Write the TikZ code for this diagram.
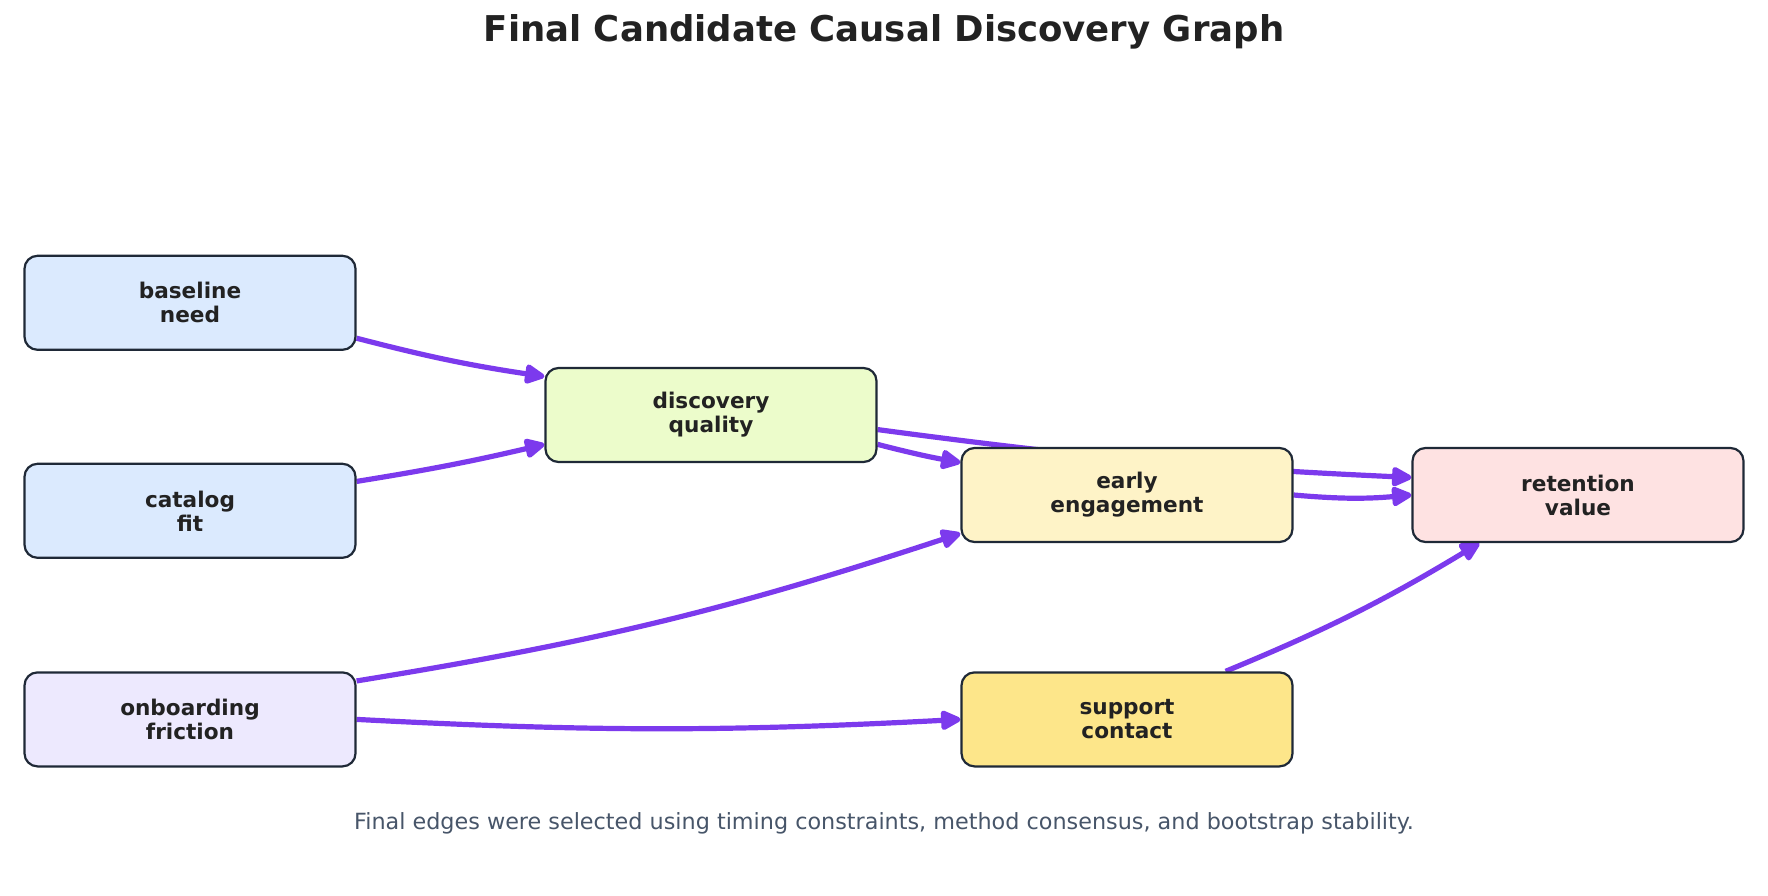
\documentclass[tikz,border=0pt]{standalone}
\usepackage{fontspec}
\setmainfont{DejaVu Sans}
\usetikzlibrary{arrows.meta,backgrounds}
\definecolor{edgec}{HTML}{7C3AED}
\definecolor{borderc}{HTML}{1F2937}
\definecolor{textc}{HTML}{222222}
\definecolor{capc}{HTML}{475569}
\definecolor{cblue}{HTML}{DBEAFE}
\definecolor{clime}{HTML}{ECFCCB}
\definecolor{camber}{HTML}{FEF3C7}
\definecolor{cred}{HTML}{FEE2E2}
\definecolor{cviolet}{HTML}{EDE9FE}
\definecolor{cgold}{HTML}{FDE68A}
\begin{document}
\begin{tikzpicture}[x=1pt,y=1pt,
  box/.style={draw=borderc, line width=2.2pt, rounded corners=13pt,
    minimum width=331pt, minimum height=94pt, inner sep=0pt, align=center,
    text=textc, font=\fontsize{21.6}{24}\selectfont\bfseries},
  edge/.style={draw=edgec, line width=5.2pt,
    -{Triangle[length=23pt,width=21pt,round]}}]
\useasboundingbox (0,0) rectangle (1768,895);
\node[text=textc, font=\fontsize{35.5}{40}\selectfont\bfseries] (title) at (884,863.4) {Final Candidate Causal Discovery Graph};
\node[box, fill=cblue] (baseline) at (190,592.2) {baseline\\need};
\node[box, fill=cblue] (catalog) at (190,384.2) {catalog\\fit};
\node[box, fill=cviolet] (onboarding) at (190,175.6) {onboarding\\friction};
\node[box, fill=clime] (discovery) at (711,480) {discovery\\quality};
\node[box, fill=camber] (early) at (1127,400) {early\\engagement};
\node[box, fill=cred] (retention) at (1578,400) {retention\\value};
\node[box, fill=cgold] (support) at (1127,175.6) {support\\contact};
\node[text=capc, font=\fontsize{22.3}{26}\selectfont] (caption) at (884,72) {Final edges were selected using timing constraints, method consensus, and bootstrap stability.};
\begin{scope}[on background layer]
\draw[edge] (baseline.-12.15) to[bend right=3] (discovery.167.85);
\draw[edge] (catalog.10.42) to[bend right=2] (discovery.190.42);
\draw[edge] (discovery.-10.89) to[bend right=2] (early.169.11);
\draw[edge] (discovery.-5.27) to[bend right=2.5] (retention.174.73);
\draw[edge] (early.east) to[bend right=5] (retention.west);
\draw[edge] (onboarding.13.47) to[bend right=4.5] (early.193.47);
\draw[edge] (onboarding.east) to[bend right=3] (support.west);
\draw[edge] (support.26.45) to[bend right=4.3] (retention.206.45);
\end{scope}
\end{tikzpicture}
\end{document}
